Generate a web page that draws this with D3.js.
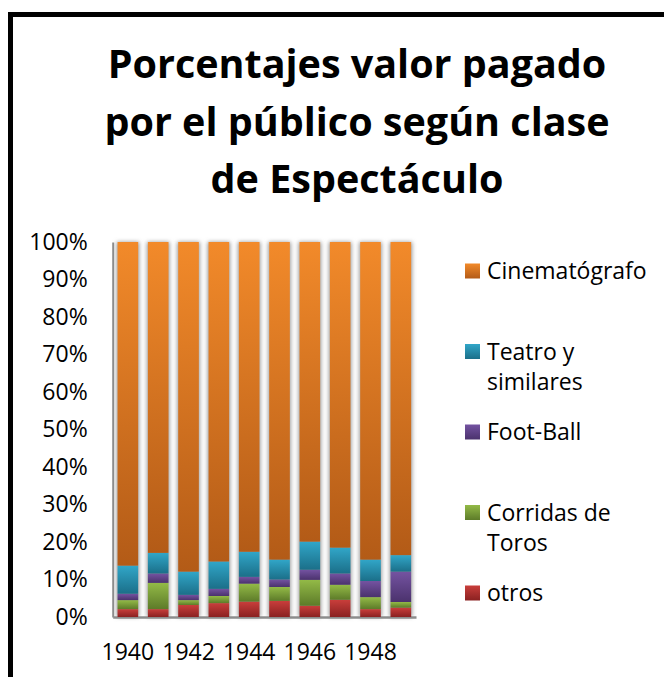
<!DOCTYPE html>
<html>
<head>
<meta charset="utf-8">
<script src="https://cdn.jsdelivr.net/npm/d3@7"></script>
<style>
  body { margin: 0; background: #fff; }
  text { font-family: "Open Sans", sans-serif; fill: #000; }
</style>
</head>
<body>
<svg width="664" height="677"></svg>
<script>

// Datos (porcentaje de cada clase por anio)
let years = [1940, 1941, 1942, 1943, 1944, 1945, 1946, 1947, 1948, 1949]
let otros =    [2.1, 2.1, 3.2, 3.7, 4.1, 4.3, 3.0, 4.6, 2.1, 2.5]
let corridas = [2.4, 7.0, 1.3, 1.9, 4.8, 3.7, 6.9, 4.0, 3.2, 1.5]
let football = [1.7, 2.5, 1.4, 1.9, 1.8, 2.0, 2.7, 3.0, 4.3, 8.1]
let teatro =   [7.5, 5.5, 6.2, 7.3, 6.7, 5.3, 7.5, 6.9, 5.7, 4.4]
let cine =     [86.3, 82.9, 87.9, 85.2, 82.6, 84.7, 79.9, 81.5, 84.7, 83.5]

let yearLabels = [1940, 1942, 1944, 1946, 1948]
let yTicks = [0, 0.1, 0.2, 0.3, 0.4, 0.5, 0.6, 0.7, 0.8, 0.9, 1]

let keys = ['otros', 'corridas', 'football', 'teatro', 'cine']
let nombres = {
  cine: ['Cinematógrafo'],
  teatro: ['Teatro y', 'similares'],
  football: ['Foot-Ball'],
  corridas: ['Corridas de', 'Toros'],
  otros: ['otros']
}
// [arriba, abajo] del degradado
let colores = {
  cine:     ['#f28a2a', '#b35b17'],
  teatro:   ['#31a6c8', '#1b6f89'],
  football: ['#7453a1', '#4b326d'],
  corridas: ['#93ba47', '#5d7b29'],
  otros:    ['#c93e3b', '#8a2121']
}

let tabla = years.map((y, i) => ({
  year: y, otros: otros[i], corridas: corridas[i], football: football[i],
  teatro: teatro[i], cine: cine[i]
}))

let svg = d3.select('svg')
let defs = svg.append('defs')

keys.forEach(k => {
  let lg = defs.append('linearGradient')
    .attr('id', 'g-' + k)
    .attr('x1', 0).attr('y1', 0).attr('x2', 0).attr('y2', 1)
  lg.append('stop').attr('offset', '0%').attr('stop-color', colores[k][0])
  lg.append('stop').attr('offset', '100%').attr('stop-color', colores[k][1])
})

let blur = defs.append('filter').attr('id', 'sombra')
  .attr('x', '-50%').attr('y', '-5%').attr('width', '200%').attr('height', '110%')
blur.append('feGaussianBlur').attr('stdDeviation', 2.2)

/* Marco */
svg.append('rect')
  .attr('x', 10.5).attr('y', 14.5)
  .attr('width', 720).attr('height', 720)
  .attr('fill', 'none').attr('stroke', '#000').attr('stroke-width', 5)

/* Titulo */
let titulo = svg.append('text')
  .attr('text-anchor', 'middle')
  .style('font-size', '39.5px').style('font-weight', 'bold')
;['Porcentajes valor pagado', 'por el público según clase', 'de Espectáculo'].forEach((t, i) => {
  titulo.append('tspan').attr('x', 357).attr('y', 78 + i * 57.5).text(t)
})

/* Escalas */
let x = d3.scaleBand().domain(years).range([112.7, 416]).paddingInner(0.32).paddingOuter(0.16)
let y = d3.scaleLinear().domain([0, 1]).range([617, 242])

let series = d3.stack().keys(keys)(tabla)

// sombras de las barras
svg.append('g').selectAll('rect')
  .data(years)
  .enter().append('rect')
  .attr('x', d => x(d) - 1)
  .attr('width', x.bandwidth() + 2)
  .attr('y', y(1))
  .attr('height', y(0) - y(1))
  .attr('fill', '#9a9a9a')
  .attr('filter', 'url(#sombra)')

// ejes
let ejeY = svg.append('g')
  .attr('transform', `translate(${x.range()[0]},0)`)
  .call(d3.axisLeft(y).tickValues(yTicks).tickFormat(d3.format('.0%')).tickSize(0).tickPadding(25))
ejeY.select('.domain').attr('stroke', '#8c8c8c').attr('stroke-width', 2)
ejeY.selectAll('text').style('font-size', '23px').style('font-family', '"Open Sans", sans-serif')

let ejeX = svg.append('g')
  .attr('transform', `translate(0,${y(0)})`)
  .call(d3.axisBottom(x).tickValues(yearLabels).tickSize(0).tickPadding(27).tickSizeOuter(0))
ejeX.select('.domain').attr('stroke', '#8c8c8c').attr('stroke-width', 2.5)
ejeX.selectAll('text').style('font-size', '23px').style('font-family', '"Open Sans", sans-serif')

// barras apiladas
svg.append('g').selectAll('g')
  .data(series)
  .enter().append('g')
  .attr('fill', d => `url(#g-${d.key})`)
  .selectAll('rect')
  .data(d => d)
  .enter().append('rect')
  .attr('x', d => x(d.data.year))
  .attr('width', x.bandwidth())
  .attr('y', d => y(d[1] / 100))
  .attr('height', d => y(d[0] / 100) - y(d[1] / 100))

/* Leyenda */
let leyenda = svg.append('g').selectAll('g')
  .data(keys.slice().reverse())
  .enter().append('g')
  .attr('transform', (d, i) => `translate(465,${271 + i * 80.5})`)

leyenda.append('rect')
  .attr('x', 0).attr('y', -7.5)
  .attr('width', 15).attr('height', 15)
  .attr('fill', d => `url(#g-${d})`)

leyenda.append('text')
  .style('font-size', '23px')
  .each(function (d) {
    let t = d3.select(this)
    nombres[d].forEach((linea, j) => {
      t.append('tspan').attr('x', 22).attr('y', j * 30.5).attr('dy', '0.35em').text(linea)
    })
  })

</script>
</body>
</html>
